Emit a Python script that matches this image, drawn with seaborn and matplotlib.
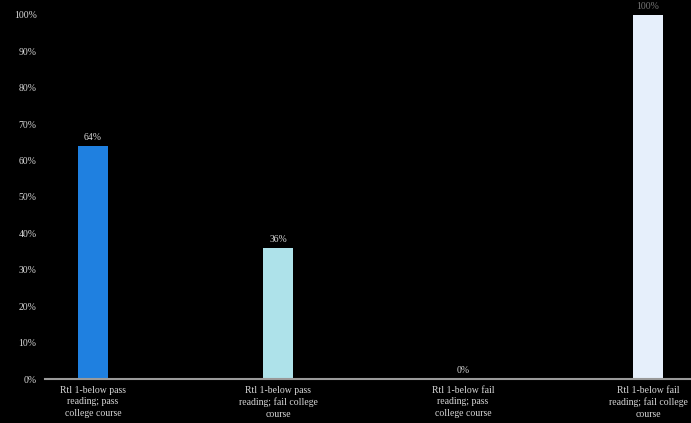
import matplotlib
matplotlib.use("Agg")
import matplotlib.pyplot as plt
import seaborn as sns
import pandas as pd

categories = [
    "Rtl 1-below pass\nreading; pass\ncollege course",
    "Rtl 1-below pass\nreading; fail college\ncourse",
    "Rtl 1-below fail\nreading; pass\ncollege course",
    "Rtl 1-below fail\nreading; fail college\ncourse",
]
values = [64, 36, 0, 100]
value_labels = ["64%", "36%", "0%", "100%"]
ytick_vals = [0, 10, 20, 30, 40, 50, 60, 70, 80, 90, 100]
bar_colors = ["#1f80e0", "#aee2ea", "#cfe6f7", "#e6effb"]

sns.set_theme(style="dark")
plt.rcParams['font.family'] = ['Liberation Serif', 'DejaVu Serif']

df = pd.DataFrame({"cat": categories, "val": values})

fig = plt.figure(figsize=(6.91, 4.23), dpi=100, facecolor="black")
ax = fig.add_axes([45 / 691, 1 - 379 / 423, (691 - 45) / 691, (379 - 15) / 423])
ax.set_facecolor("black")

sns.barplot(data=df, x="cat", y="val", hue="cat", palette=bar_colors,
            width=0.162, legend=False, ax=ax, saturation=1, linewidth=0)

ax.set_xlim(-0.259, 3.232)
ax.set_ylim(0, 100)
ax.set_yticks(ytick_vals)
ax.set_yticklabels([f"{v}%" for v in ytick_vals], color="#d8d8d8", fontsize=7)
ax.tick_params(axis="y", length=0, pad=6)
ax.tick_params(axis="x", length=0, pad=5)
ax.set_xticks(range(len(categories)))
ax.set_xticklabels(categories, color="#d8d8d8", fontsize=7, linespacing=1.35)
ax.set_xlabel("")
ax.set_ylabel("")
ax.grid(False)
for s in ["top", "right", "left"]:
    ax.spines[s].set_visible(False)
ax.spines["bottom"].set_color("#9a9a9a")
ax.spines["bottom"].set_linewidth(1.5)

for i, (v, lab) in enumerate(zip(values, value_labels)):
    ax.text(i, v + 1.2, lab, ha="center", va="bottom", fontsize=7,
            color="#d8d8d8" if v < 100 else "#777777", clip_on=False)

fig.savefig("out.png", dpi=100, facecolor="black")
